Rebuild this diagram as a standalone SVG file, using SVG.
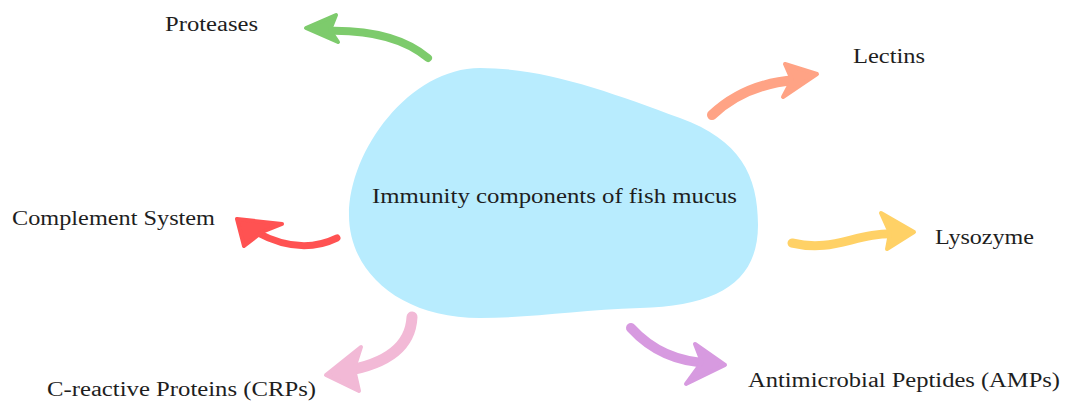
<svg xmlns="http://www.w3.org/2000/svg" width="1065" height="402" viewBox="0 0 1065 402">
<style>
text{font-family:"Liberation Serif","Times New Roman",serif;font-size:20px;fill:#1e1e1e}
.shaft{fill:none;stroke-linecap:round}
.head{stroke-linejoin:round;stroke-width:4}
</style>
<rect width="1065" height="402" fill="#fff"/>
<g id="center">
<path d="M480,68 C545,68 610,92 680,118 C740,140 758,175 758,225 C758,282 718,306 640,308 C580,310 530,318 480,318 C400,318 349,272 349,215 C349,150 410,68 480,68 Z" fill="#b8ecfe"/>
<text x="372" y="203" textLength="365" lengthAdjust="spacingAndGlyphs">Immunity components of fish mucus</text>
</g>
<g id="connectors">
<g fill="#7dcb6c" stroke="#7dcb6c">
<path class="shaft" d="M428,58 Q392,28 322,31" stroke-width="8"/>
<path class="head" d="M306,28 L336,15 L330,30 L338,42 Z"/>
</g>
<g fill="#ffa385" stroke="#ffa385">
<path class="shaft" d="M712,115 Q745,84 795,80" stroke-width="10"/>
<path class="head" d="M817,74 L785,64 L792,80 L783,97 Z"/>
</g>
<g fill="#ff5252" stroke="#ff5252">
<path class="shaft" d="M337,238 Q300,256 256,232" stroke-width="7"/>
<path class="head" d="M237,219 L282,224 L262,232 L244,246 Z"/>
</g>
<g fill="#ffd166" stroke="#ffd166">
<path class="shaft" d="M792,243 C835,253 855,232 897,234" stroke-width="9"/>
<path class="head" d="M914,232 L881,213 L890,233 L887,249 Z"/>
</g>
<g fill="#f2b9d6" stroke="#f2b9d6">
<path class="shaft" d="M412,317 Q410,360 345,371" stroke-width="11"/>
<path class="head" d="M326,375 L361,347 L354,369 L359,391 Z"/>
</g>
<g fill="#d79ae0" stroke="#d79ae0">
<path class="shaft" d="M631,328 Q662,362 710,363" stroke-width="10"/>
<path class="head" d="M725,365 L695,344 L702,362 L686,384 Z"/>
</g>
</g>
<g id="proteases"><text x="165" y="31" textLength="93" lengthAdjust="spacingAndGlyphs">Proteases</text></g>
<g id="lectins"><text x="853" y="63" textLength="72" lengthAdjust="spacingAndGlyphs">Lectins</text></g>
<g id="complement"><text x="12" y="225" textLength="203" lengthAdjust="spacingAndGlyphs">Complement System</text></g>
<g id="lysozyme"><text x="935" y="244" textLength="99" lengthAdjust="spacingAndGlyphs">Lysozyme</text></g>
<g id="crp"><text x="47" y="396" textLength="269" lengthAdjust="spacingAndGlyphs">C-reactive Proteins (CRPs)</text></g>
<g id="amp"><text x="748" y="387" textLength="312" lengthAdjust="spacingAndGlyphs">Antimicrobial Peptides (AMPs)</text></g>
</svg>
